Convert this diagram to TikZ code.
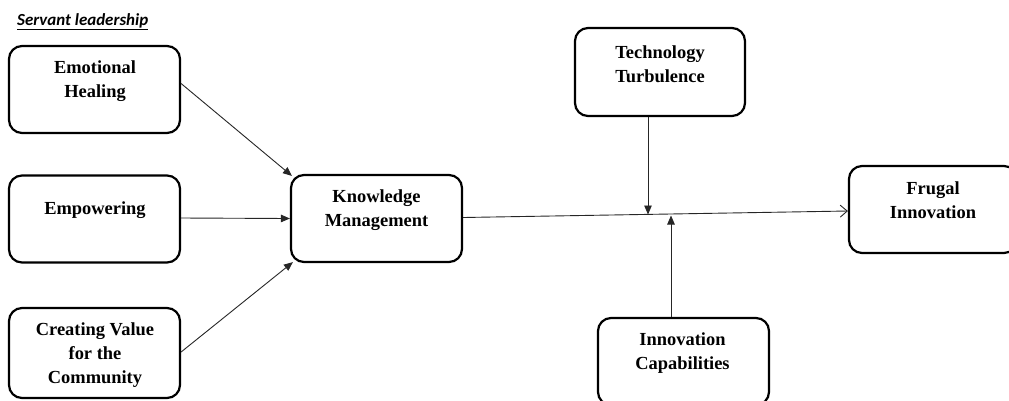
\documentclass[tikz,border=0pt]{standalone}
\usepackage{fontspec}
\setmainfont{Liberation Serif}
\newfontfamily\titlefont{Carlito}
\usetikzlibrary{arrows.meta,calc}
\begin{document}
\begin{tikzpicture}[x=1bp,y=-1bp,
  box/.style={draw=black,line width=2.2bp,rounded corners=13bp,minimum width=171bp,minimum height=87bp,inner sep=0pt},
  txt/.style={align=center,inner sep=0pt,font=\fontsize{18.5}{24}\selectfont\bfseries},
  conn/.style={draw=black!85,line width=0.9bp},
  solidtip/.style={-{Triangle[length=9bp,width=7.5bp]}},
  opentip/.style={-{Straight Barb[length=7bp,width=12bp,line width=0.9bp]}}]
\useasboundingbox (0,0) rectangle (1009,400);
\node[anchor=base west,inner sep=0pt,font=\titlefont\fontsize{17}{20}\selectfont\bfseries\itshape] (title) at (17,25) {\underline{Servant leadership}};
% boxes
\node[box] (eh) at (94.5,89.5) {};
\node[box] (emp) at (94.5,219) {};
\node[box,minimum height=90bp] (cv) at (94.5,353) {};
\node[box] (km) at (376.5,218.5) {};
\node[box,minimum width=170bp,minimum height=88bp] (tt) at (660,72) {};
\node[box,minimum width=168bp] (fi) at (933,209.5) {};
\node[box] (ic) at (683.5,361.5) {};
% texts
\node[txt] (eht) at (95,81.5) {Emotional\\Healing};
\node[txt] (empt) at (95,210.5) {Empowering};
\node[txt] (cvt) at (95,355) {Creating Value\\for the\\Community};
\node[txt] (kmt) at (376.5,210.5) {Knowledge\\Management};
\node[txt] (ttt) at (660,64) {Technology\\Turbulence};
\node[txt] (fit) at (933,200.5) {Frugal\\Innovation};
\node[txt] (ict) at (682.5,353.5) {Innovation\\Capabilities};
% connectors
\draw[conn,solidtip] ([yshift=6bp]eh.east) -- ([xshift=2bp,yshift=-2bp]km.north west);
\draw[conn,solidtip] ([yshift=1bp]emp.east) -- (km.west);
\draw[conn,solidtip] ([yshift=1bp]cv.east) -- ([xshift=3bp,yshift=1bp]km.south west);
\draw[conn,opentip] ([yshift=1bp]km.east) -- ([yshift=-1.5bp]fi.west);
\coordinate (m1) at (648,214.5);
\coordinate (m2) at (671,215.5);
\draw[conn,solidtip] (tt.south -| m1) -- (m1);
\draw[conn,solidtip] (ic.north -| m2) -- (m2);
\end{tikzpicture}
\end{document}
